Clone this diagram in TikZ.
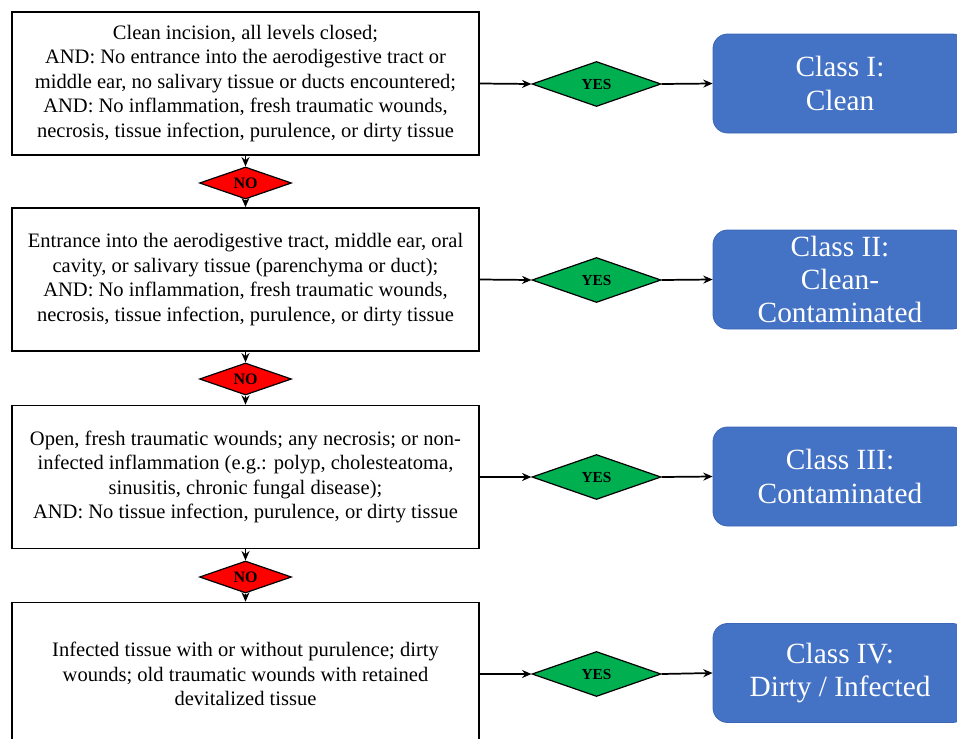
\documentclass[tikz,border=0pt]{standalone}
\usepackage{fontspec}
\setmainfont{Liberation Serif}
\usetikzlibrary{shapes.geometric,arrows.meta}
\definecolor{clsblue}{HTML}{4472C4}
\definecolor{clsedge}{HTML}{3B66B5}
\definecolor{yesgreen}{HTML}{00B050}
\definecolor{nored}{HTML}{FF0000}
\begin{document}
\begin{tikzpicture}[x=0.75pt,y=-0.75pt,
  critbox/.style={draw=black,line width=1.2pt,fill=white,minimum width=350.25pt,minimum height=107.25pt,inner sep=0pt,align=center,font=\fontsize{15.4}{18.4}\selectfont},
  yesdia/.style={shape=diamond,draw=black,line width=0.9pt,fill=yesgreen,aspect=2.9,minimum width=96.75pt,minimum height=33.75pt,inner sep=0pt,font=\bfseries\fontsize{11.5}{12}\selectfont},
  nodia/.style={shape=diamond,draw=black,line width=0.9pt,fill=nored,aspect=2.9,minimum width=69pt,minimum height=24pt,inner sep=0pt,font=\bfseries\fontsize{12}{13}\selectfont},
  classbox/.style={draw=clsedge,line width=0.6pt,fill=clsblue,rounded corners=11pt,minimum width=190.5pt,minimum height=74.25pt,inner sep=0pt,align=center,text=white,font=\fontsize{22}{25}\selectfont},
  conn/.style={line width=1.3pt,-{Stealth[length=7pt,width=6pt]}}
]
\useasboundingbox (0,0) rectangle (957,739);
\clip (0,0) rectangle (957,739);

\node[critbox] (b1) at (245.5,83.5) {Clean incision, all levels closed;\\AND: No entrance into the aerodigestive tract or\\middle ear, no salivary tissue or ducts encountered;\\AND: No inflammation, fresh traumatic wounds,\\necrosis, tissue infection, purulence, or dirty tissue};
\node[critbox] (b2) at (245.5,279.5) {Entrance into the aerodigestive tract, middle ear, oral\\cavity, or salivary tissue (parenchyma or duct);\\AND: No inflammation, fresh traumatic wounds,\\necrosis, tissue infection, purulence, or dirty tissue};
\node[critbox] (b3) at (245.5,477) {Open, fresh traumatic wounds; any necrosis; or non-\\infected inflammation (e.g.: polyp, cholesteatoma,\\sinusitis, chronic fungal disease);\\AND: No tissue infection, purulence, or dirty tissue};
\node[critbox] (b4) at (245.5,674) {Infected tissue with or without purulence; dirty\\wounds; old traumatic wounds with retained\\devitalized tissue};

\node[nodia] (n1) at (245.5,183) {NO};
\node[nodia] (n2) at (245.5,379) {NO};
\node[nodia] (n3) at (245.5,577) {NO};

\node[yesdia] (y1) at (596.5,84) {YES};
\node[yesdia] (y2) at (596.5,280) {YES};
\node[yesdia] (y3) at (596.5,477) {YES};
\node[yesdia] (y4) at (596.5,674) {YES};

\node[classbox] (c1) at (840,83.5) {\raisebox{-2pt}{\parbox{180pt}{\centering Class I:\\Clean}}};
\node[classbox] (c2) at (840,279.5) {\raisebox{-2pt}{\parbox{180pt}{\centering Class II:\\Clean-\\Contaminated}}};
\node[classbox] (c3) at (840,476.5) {\raisebox{-2pt}{\parbox{180pt}{\centering Class III:\\Contaminated}}};
\node[classbox] (c4) at (840,673) {\raisebox{-2pt}{\parbox{180pt}{\centering Class IV:\\Dirty / Infected}}};

\draw[conn] (b1.south) -- (n1.north);
\draw[conn] (n1.south) -- (b2.north);
\draw[conn] (b2.south) -- (n2.north);
\draw[conn] (n2.south) -- (b3.north);
\draw[conn] (b3.south) -- (n3.north);
\draw[conn] (n3.south) -- (b4.north);

\draw[conn] (b1.east) -- (y1.west);
\draw[conn] (b2.east) -- (y2.west);
\draw[conn] (b3.east) -- (y3.west);
\draw[conn] (b4.east) -- (y4.west);

\draw[conn] (y1.east) -- (c1.west);
\draw[conn] (y2.east) -- (c2.west);
\draw[conn] (y3.east) -- (c3.west);
\draw[conn] (y4.east) -- (c4.west);
\end{tikzpicture}
\end{document}
